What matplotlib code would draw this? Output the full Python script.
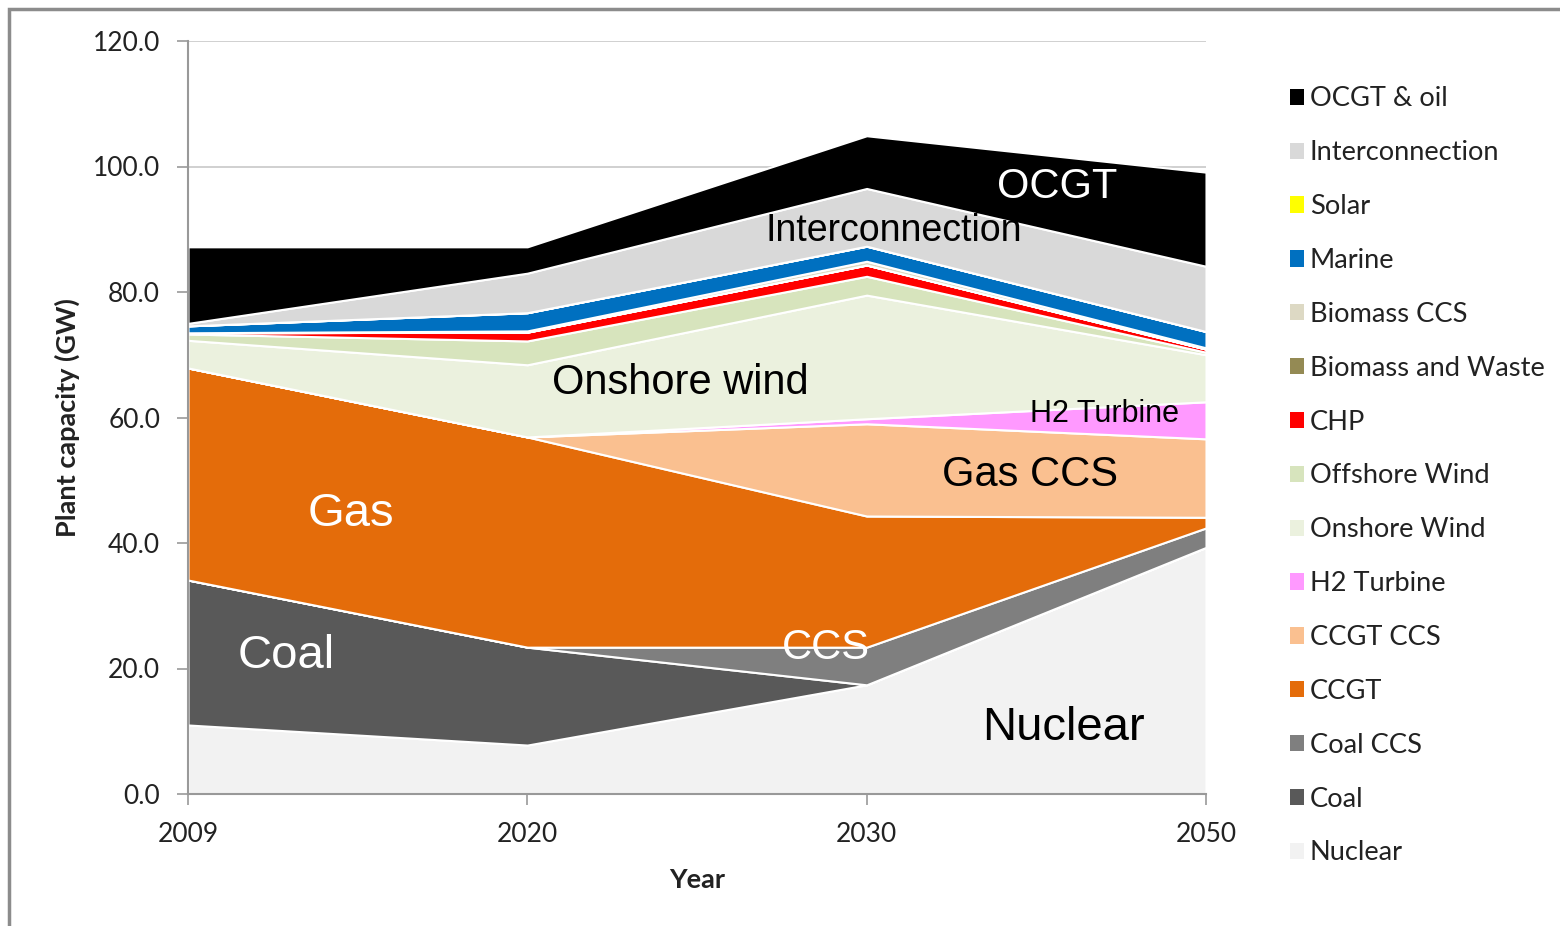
import numpy as np
import matplotlib.pyplot as plt
from matplotlib.patches import Rectangle, Patch

# categories / data (GW, stacked bottom -> top)
years = ['2009', '2020', '2030', '2050']
nuclear      = [11.0, 7.8, 17.4, 39.3]
coal         = [23.1, 15.6, 0.0, 0.0]
coal_ccs     = [0.0, 0.0, 6.0, 3.1]
ccgt         = [33.8, 33.5, 20.9, 1.7]
ccgt_ccs     = [0.0, 0.0, 14.7, 12.5]
h2_turbine   = [0.0, 0.0, 0.8, 5.9]
onshore      = [4.4, 11.5, 19.7, 7.5]
offshore     = [1.0, 3.8, 3.0, 0.4]
chp          = [0.2, 1.4, 1.8, 0.5]
biomass      = [0.0, 0.0, 0.0, 0.0]
biomass_ccs  = [0.0, 0.2, 0.6, 0.2]
marine       = [1.1, 2.9, 2.4, 2.6]
solar        = [0.0, 0.0, 0.0, 0.0]
interconn    = [0.4, 6.3, 9.2, 10.4]
ocgt         = [12.2, 4.2, 8.4, 15.0]

names = ['Nuclear', 'Coal', 'Coal CCS', 'CCGT', 'CCGT CCS', 'H2 Turbine',
         'Onshore Wind', 'Offshore Wind', 'CHP', 'Biomass and Waste',
         'Biomass CCS', 'Marine', 'Solar', 'Interconnection', 'OCGT & oil']
colors = ['#F2F2F2', '#595959', '#7F7F7F', '#E46C0A', '#FAC090', '#FF99FF',
          '#EBF1DE', '#D7E4BD', '#FF0000', '#948A54', '#DDD9C4', '#0070C0',
          '#FFFF00', '#D9D9D9', '#000000']
series = [nuclear, coal, coal_ccs, ccgt, ccgt_ccs, h2_turbine, onshore,
          offshore, chp, biomass, biomass_ccs, marine, solar, interconn, ocgt]

plt.rcParams['font.family'] = ['Lato', 'DejaVu Sans']

fig = plt.figure(figsize=(15.6, 9.26), dpi=100)
ax = fig.add_axes([188/1560, 1-794/926, (1206-188)/1560, (794-41)/926])

x = np.arange(len(years))
ax.stackplot(x, *series, colors=colors, edgecolor='white', linewidth=1.5, zorder=2)

ax.set_xlim(0, 3)
ax.set_ylim(0, 120)
ax.set_yticks(np.arange(0, 121, 20))
ax.set_yticklabels(['%.1f' % v for v in np.arange(0, 121, 20)])
ax.set_xticks(x)
ax.set_xticklabels(years)
ax.yaxis.grid(True, color='#C8C8C8', linewidth=1.2, zorder=0)
ax.set_axisbelow(True)
for s in ['top', 'right']:
    ax.spines[s].set_visible(False)
for s in ['left', 'bottom']:
    ax.spines[s].set_color('#999999')
    ax.spines[s].set_linewidth(1.5)
ax.tick_params(axis='both', colors='#999999', labelcolor='#222222', labelsize=19,
               length=8, width=1.2)
ax.tick_params(axis='y', pad=12)
ax.tick_params(axis='x', pad=12)
ax.set_xlabel('Year', fontsize=19.5, fontweight='bold', labelpad=15, color='#222222')
ax.set_ylabel('Plant capacity (GW)', fontsize=19.5, fontweight='bold', labelpad=9,
              color='#222222')

# in-chart labels
lab = dict(family='Liberation Sans', ha='center', va='center')
ax.text(0.48, 44.6, 'Gas', color='white', fontsize=34, **lab)
ax.text(0.29, 22.0, 'Coal', color='white', fontsize=34, **lab)
ax.text(1.88, 23.3, 'CCS', color='white', fontsize=30, **lab)
ax.text(2.58, 10.5, 'Nuclear', color='black', fontsize=34, **lab)
ax.text(2.48, 50.8, 'Gas CCS', color='black', fontsize=30, **lab)
ax.text(2.7, 60.6, 'H2 Turbine', color='black', fontsize=22, **lab)
ax.text(1.45, 65.5, 'Onshore wind', color='black', fontsize=30, **lab)
ax.text(2.08, 89.8, 'Interconnection', color='black', fontsize=27, **lab)
ax.text(2.56, 96.7, 'OCGT', color='white', fontsize=30, **lab)

# legend, top entry first
handles = [Patch(facecolor=c, edgecolor='none') for c in colors][::-1]
fig.legend(handles, names[::-1], loc='upper left',
           bbox_to_anchor=(1265/1560, 1-62/926), frameon=False, fontsize=19.6,
           handlelength=0.55, handleheight=0.55, handletextpad=0.2,
           labelspacing=1.06, labelcolor='#222222')

# outer chart border
fig.patches.append(Rectangle((9/1560, -0.1), 1.2, 1-9/926+0.1, transform=fig.transFigure,
                             fill=False, edgecolor='#8C8C8C', linewidth=2.5))

fig.savefig('out.png', dpi=100)
